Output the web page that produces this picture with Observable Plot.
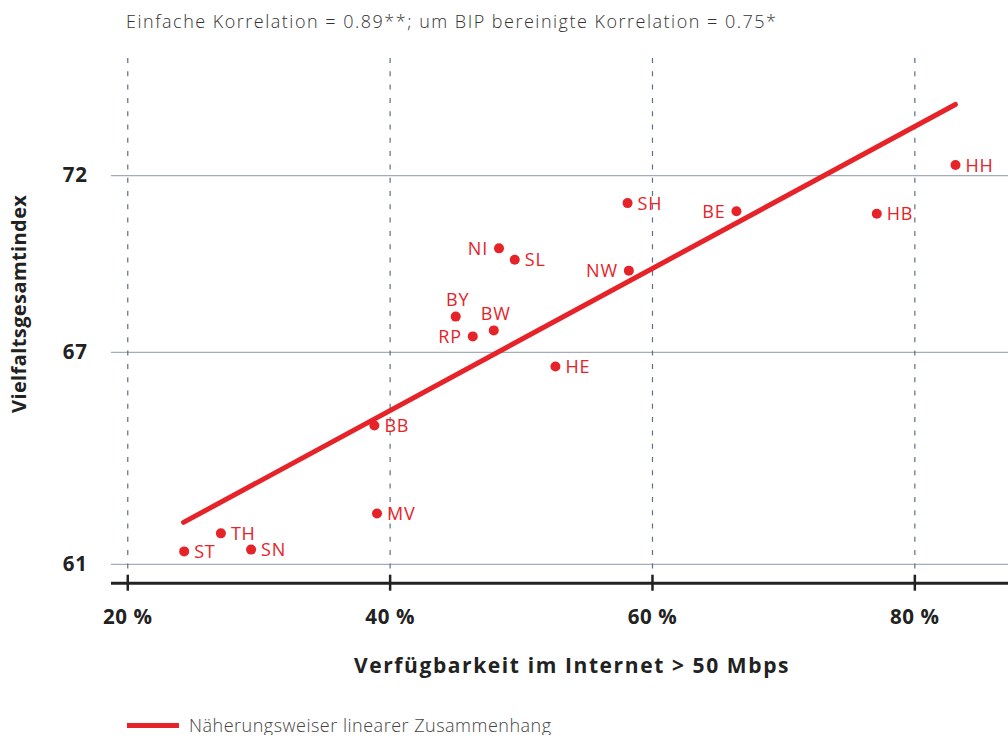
<!DOCTYPE html>
<html>
<head>
<meta charset="utf-8">
<script src="https://cdn.jsdelivr.net/npm/d3@7"></script>
<script src="https://cdn.jsdelivr.net/npm/@observablehq/plot@0.6"></script>
<style>
  body { margin: 0; background: #fff; font-family: "Open Sans", sans-serif; }
  #title { height: 45px; box-sizing: border-box; padding: 8px 0 0 126px; font-size: 18px; letter-spacing: 1.5px; font-weight: 300; color: #333; line-height: 26px; white-space: nowrap; }
  #chart svg { display: block; }
  #legend { margin-top: 20px; height: 20px; display: flex; align-items: center; padding-left: 127px; font-size: 18px; letter-spacing: 0.5px; font-weight: 300; color: #444; white-space: nowrap; }
  #legend .swatch { width: 52px; height: 5px; background: #e52329; margin-right: 10px; }
</style>
</head>
<body>
<div id="title">Einfache Korrelation = 0.89**; um BIP bereinigte Korrelation = 0.75*</div>
<div id="chart"></div>
<div id="legend"><span class="swatch"></span><span>Näherungsweiser linearer Zusammenhang</span></div>
<script>
// ---- data ----
const states    = ["ST", "TH", "SN", "MV", "BB", "HE", "RP", "BW", "BY", "NI", "SL", "NW", "SH", "BE", "HB", "HH"];
const broadband = [24.3, 27.1, 29.4, 39.0, 38.8, 52.6, 46.3, 47.9, 45.0, 48.3, 49.5, 58.2, 58.1, 66.4, 77.1, 83.1];
const diversity = [61.37, 61.88, 61.42, 62.44, 64.93, 66.60, 67.45, 67.62, 68.01, 69.94, 69.62, 69.31, 71.22, 70.99, 70.92, 72.30];
const trendX = [24.25, 83.09];
const trendY = [62.19, 74.01];
const xTicks = [20, 40, 60, 80];
const yTicks = [61, 67, 72];
const xLabel = "Verfügbarkeit im Internet > 50 Mbps";
const yLabel = "Vielfaltsgesamtindex";

// label placement (style, not data)
const labelSide = {NI: "left", BE: "left", NW: "left", RP: "left", BY: "top", BW: "top"};

const RED = "#e52329";
const points = states.map((s, i) => ({s, x: broadband[i], y: diversity[i], side: labelSide[s] || "right"}));
const trend = trendX.map((x, i) => ({x, y: trendY[i]}));
const xDomain = [18.76, 87.14];
const yDomain = [60.47, 75.31];

const chart = Plot.plot({
  width: 1008,
  height: 650,
  marginLeft: 111,
  marginRight: 0,
  marginTop: 13,
  marginBottom: 112.3,
  style: {fontFamily: "'Open Sans', sans-serif", background: "#fff", overflow: "visible"},
  x: {domain: xDomain},
  y: {domain: yDomain},
  marks: [
    Plot.ruleY(yTicks, {stroke: "#a3adb9", strokeWidth: 1.2}),
    Plot.ruleX(xTicks, {stroke: "#5d6f84", strokeWidth: 1.2, strokeDasharray: "5,8.3"}),
    Plot.ruleY([yDomain[0]], {stroke: "#222", strokeWidth: 3}),
    Plot.axisX({ticks: xTicks, tickSize: 16, dy: -8, text: null, label: null, stroke: "#222", strokeWidth: 2.5}),
    Plot.axisX({ticks: xTicks, tickSize: 0, tickPadding: 26, tickFormat: d => d + " %", fontSize: 20.5, fontWeight: "bold", fill: "#222", label: null}),
    Plot.axisY({ticks: yTicks, tickSize: 0, tickPadding: 24, fontSize: 20.5, fontWeight: "bold", fill: "#222", label: null}),
    Plot.text([yLabel], {frameAnchor: "left", textAnchor: "middle", rotate: -90, dx: -92, dy: -17, fontSize: 20, fontWeight: "bold", fill: "#222"}),
    Plot.text([xLabel], {frameAnchor: "bottom", dx: 12, dy: 90, fontSize: 21, fontWeight: "bold", fill: "#222"}),
    Plot.line(trend, {x: "x", y: "y", stroke: RED, strokeWidth: 5, strokeLinecap: "round"}),
    Plot.dot(points, {x: "x", y: "y", r: 5, fill: RED}),
    Plot.text(points.filter(d => d.side === "right"), {x: "x", y: "y", text: "s", textAnchor: "start", dx: 10, dy: 1, fill: RED, fontSize: 18}),
    Plot.text(points.filter(d => d.side === "left"), {x: "x", y: "y", text: "s", textAnchor: "end", dx: -11, dy: 1, fill: RED, fontSize: 18}),
    Plot.text(points.filter(d => d.side === "top"), {x: "x", y: "y", text: "s", textAnchor: "middle", dx: 2, dy: -16, fill: RED, fontSize: 18})
  ]
});
// letter spacing to mimic the wider original typeface
const spacing = {"21": "1.6px", "20": "0.4px", "20.5": "0.6px", "18": "0.8px"};
for (const [fs, ls] of Object.entries(spacing)) {
  chart.querySelectorAll(`g[font-size="${fs}"]`).forEach(g => g.style.letterSpacing = ls);
}
document.getElementById("chart").appendChild(chart);
</script>
</body>
</html>
